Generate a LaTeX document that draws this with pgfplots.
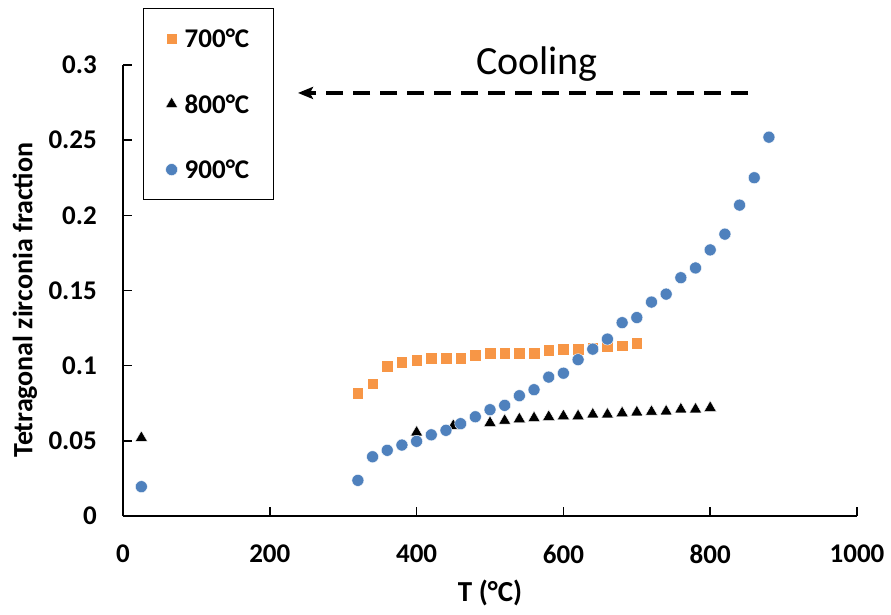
\documentclass[border=0pt]{standalone}
\usepackage{pgfplots}
\pgfplotsset{compat=1.18}
\usepackage{fontspec}
\setmainfont{Carlito}
\usetikzlibrary{arrows.meta}
\definecolor{xlorange}{RGB}{247,150,70}
\definecolor{xlblue}{RGB}{79,129,189}
\pgfplotstableread{
T f
320 0.0816
340 0.0880
360 0.0998
380 0.1022
400 0.1037
420 0.1049
440 0.1049
460 0.1049
480 0.1069
500 0.1082
520 0.1082
540 0.1082
560 0.1082
580 0.1102
600 0.1109
620 0.1109
640 0.1119
660 0.1126
680 0.1133
700 0.1148
}\dataA
\pgfplotstableread{
T f
25 0.0520
400 0.0556
450 0.0600
500 0.0620
520 0.0634
540 0.0645
560 0.0652
580 0.0660
600 0.0665
620 0.0665
640 0.0676
660 0.0676
680 0.0685
700 0.0690
720 0.0694
740 0.0696
760 0.0710
780 0.0710
800 0.0720
}\dataB
\pgfplotstableread{
T f
25 0.0195
320 0.0237
340 0.0394
360 0.0437
380 0.0472
400 0.0497
420 0.0540
440 0.0570
460 0.0614
480 0.0660
500 0.0707
520 0.0736
540 0.0800
560 0.0840
580 0.0924
600 0.0950
620 0.1040
640 0.1110
660 0.1177
680 0.1286
700 0.1320
720 0.1423
740 0.1476
760 0.1585
780 0.1650
800 0.1770
820 0.1875
840 0.2068
860 0.2250
880 0.2520
}\dataC
\begin{document}
\begin{tikzpicture}
\path[use as bounding box] (0,0) rectangle (891pt,614pt);
\begin{axis}[
  at={(123pt,98pt)}, anchor=south west,
  scale only axis, width=734pt, height=451pt,
  xmin=0, xmax=1000, ymin=0, ymax=0.3,
  axis x line*=bottom, axis y line*=left,
  axis line style={line width=1.6pt, black},
  xtick={0,200,...,1000}, ytick={0,0.05,0.1,0.15,0.2,0.25,0.3},
  tick align=inside, major tick length=9pt,
  tick style={line width=1.6pt, black},
  minor tick num=0,
  /pgf/number format/assume math mode=true,
  /pgf/number format/fixed, /pgf/number format/precision=2,
  /pgf/number format/1000 sep={},
  tick label style={font=\bfseries\fontsize{27}{30}\selectfont, inner sep=0pt},
  yticklabel style={anchor=east, xshift=-26pt},
  xticklabel style={anchor=north, yshift=-29pt},
  every axis y label/.style={at={(axis description cs:-0.1335,0.479)}, rotate=90, anchor=center, font=\bfseries\fontsize{28}{32}\selectfont},
  every axis x label/.style={at={(axis description cs:0.5,-0.1707)}, anchor=center, font=\bfseries\fontsize{29}{32}\selectfont},
  ylabel={Tetragonal zirconia fraction},
  xlabel={T (°C)},
  clip=false,
  legend cell align=left,
  legend image code/.code={\draw[mark repeat=2,mark phase=2,#1] plot coordinates {(0pt,0pt) (6pt,0pt) (12pt,0pt)};},
  legend style={at={(axis description cs:0.0272,1.1264)}, anchor=north west,
    draw=black, line width=1.2pt, font=\bfseries\fontsize{27}{30}\selectfont,
    inner xsep=22pt, inner ysep=19pt, row sep=43.5pt,
    /tikz/every odd column/.append style={column sep=5pt},
    nodes={inner sep=2pt, text height=18pt, text depth=0pt, line width=0.5pt}},
]
\addplot[only marks, mark=square*, mark size=5.75pt, mark options={fill=xlorange, draw=white, line width=0.4pt}] table[x=T,y=f] {\dataA};
\addlegendentry{700°C}
\addplot[only marks, mark=triangle*, mark size=7pt, mark options={fill=black, draw=white, line width=0.4pt}] table[x=T,y=f] {\dataB};
\addlegendentry{800°C}
\addplot[only marks, mark=*, mark size=6pt, mark options={fill=xlblue, draw=white, line width=0.4pt}] table[x=T,y=f] {\dataC};
\addlegendentry{900°C}
\draw[line width=3.5pt, dash pattern=on 17pt off 10pt, -{Stealth[length=15pt,width=12pt,inset=3pt]}] (axis cs:851.5,0.2814) -- (axis cs:238.4,0.2814);
\node[anchor=base, font=\fontsize{40}{44}\selectfont, inner sep=0pt] at (axis cs:564,0.294) {Cooling};
\end{axis}
\end{tikzpicture}
\end{document}
